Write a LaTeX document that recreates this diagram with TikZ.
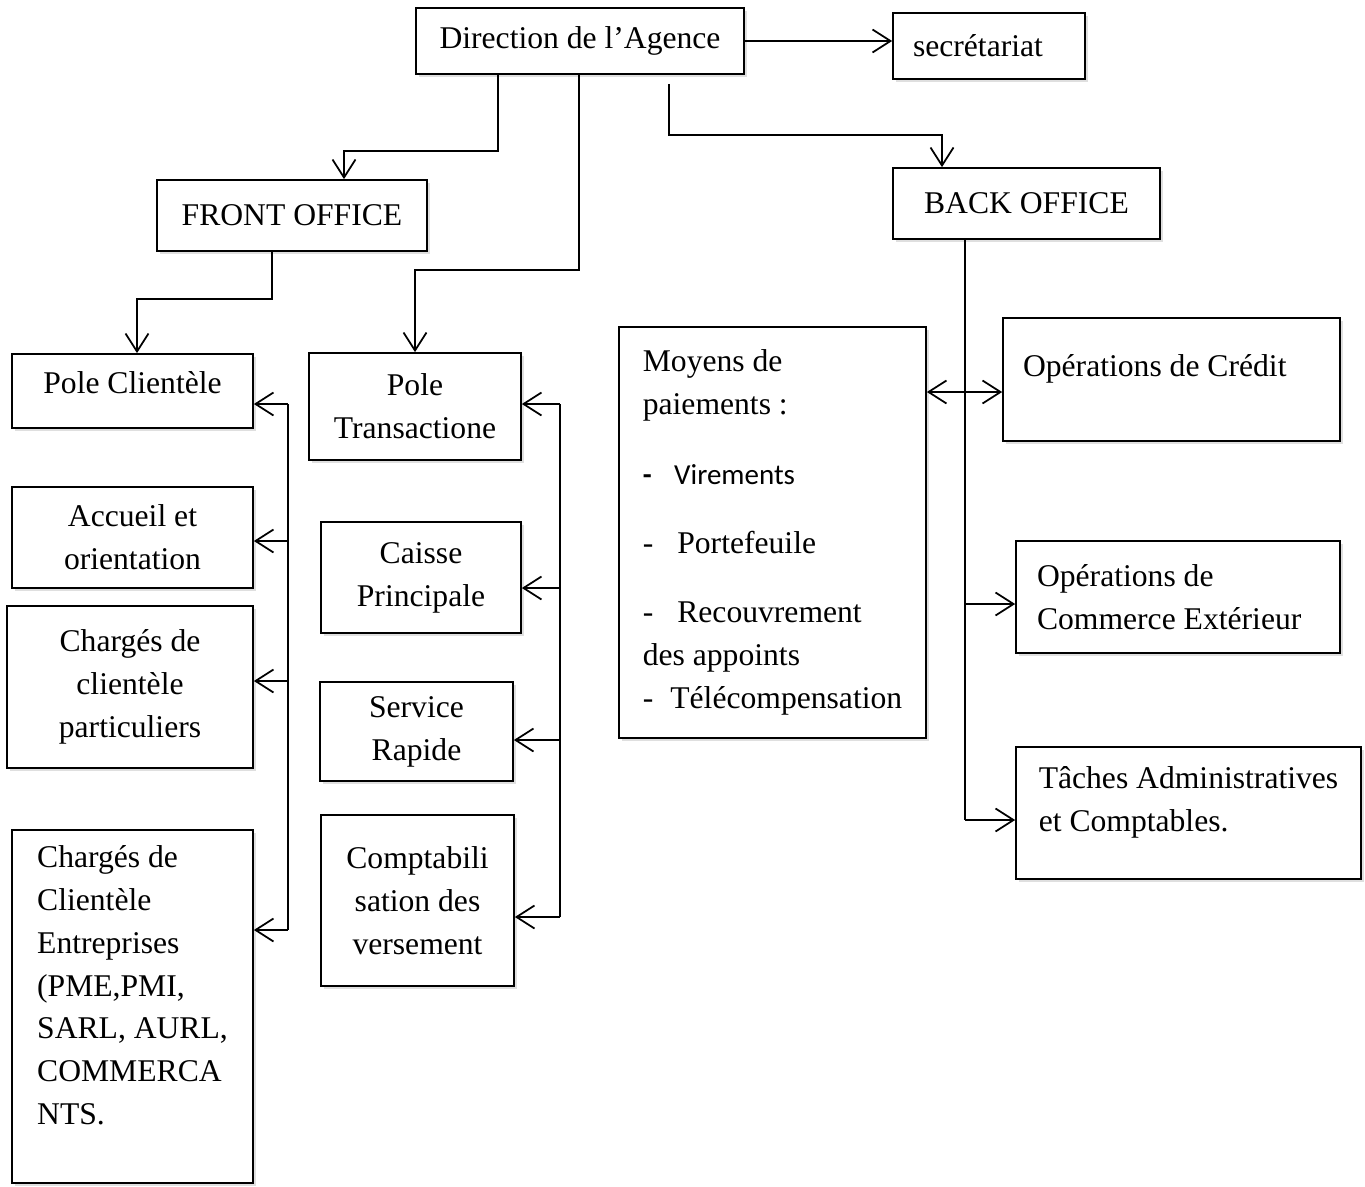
\documentclass[tikz,border=0pt]{standalone}
\usepackage{fontspec}
\setmainfont{Liberation Serif}
\newfontfamily\calibrifont{Carlito}
\usetikzlibrary{arrows.meta,shadows}

\begin{document}
\begin{tikzpicture}[x=0.02cm,y=-0.02cm,line width=1pt,>={Straight Barb[length=3.6mm,width=4.6mm]},
        box/.style={draw,line width=1pt,fill=white,drop shadow={shadow xshift=1.5pt,shadow yshift=-1.5pt,opacity=0.25},align=center,inner sep=0pt,font=\fontsize{18}{24.4}\selectfont}]
            \useasboundingbox (0,0) rectangle (1365,1186);
            \node[box,minimum width=6.56cm,minimum height=1.32cm] (dir) at (580,41) {Direction de l’Agence};
            \node[box,minimum width=3.84cm,minimum height=1.32cm,align=flush left,text width=3.04cm,inner xsep=0.4cm] (sec) at (989,46) {secrétariat};
            \node[box,minimum width=5.4cm,minimum height=1.42cm] (fo) at (292,215.5) {FRONT OFFICE};
            \node[box,minimum width=5.34cm,minimum height=1.42cm] (bo) at (1026.5,203.5) {BACK OFFICE};
            \node[box,minimum width=4.82cm,minimum height=1.48cm] (pc) at (132.5,391) {Pole Clientèle\\[-15pt]\mbox{}};
            \node[box,minimum width=4.24cm,minimum height=2.14cm] (pt) at (415,406.5) {Pole\\Transactione};
            \node[box,minimum width=4.82cm,minimum height=2.02cm] (ac) at (132.5,537.5) {Accueil et\\orientation};
            \node[box,minimum width=4.92cm,minimum height=3.24cm] (cpart) at (130,687) {Chargés de\\clientèle\\particuliers};
            \node[box,minimum width=4.82cm,minimum height=7.06cm,align=left] (cent) at (132.5,1006.5) {Chargés de\\Clientèle\\Entreprises\\(PME,PMI,\\SARL, AURL,\\COMMERCA\\NTS.\\ \mbox{}};
            \node[box,minimum width=4.0cm,minimum height=2.22cm] (cp) at (421,577.5) {Caisse\\Principale};
            \node[box,minimum width=3.86cm,minimum height=1.98cm] (sr) at (416.5,731.5) {Service\\Rapide};
            \node[box,minimum width=3.86cm,minimum height=3.42cm] (cv) at (417.5,900.5) {Comptabili\\sation des\\versement};
            \node[box,minimum width=6.14cm,minimum height=8.22cm,align=left] (mp) at (772.5,532.5) {Moyens de\\paiements :\\[15pt]{\calibrifont\fontsize{16.5}{24.4}\selectfont\textbf{-}\hspace{0.45cm}Virements}\\[15pt]-\hspace{0.48cm}Portefeuile\\[15pt]-\hspace{0.48cm}Recouvrement\\des appoints\\-\hspace{0.34cm}Télécompensation};
            \node[box,minimum width=6.74cm,minimum height=2.46cm,align=flush left,text width=5.94cm,inner xsep=0.4cm] (oc) at (1171.5,379.5) {Opérations de Crédit\\[-8pt]\mbox{}};
            \node[box,minimum width=6.48cm,minimum height=2.24cm,align=flush left,text width=5.64cm,inner xsep=0.42cm] (ce) at (1178,597) {Opérations de\\Commerce Extérieur};
            \node[box,minimum width=6.9cm,minimum height=2.64cm,align=left] (ta) at (1188.5,813) {Tâches Administratives\\et Comptables.\\[-8pt]\mbox{}};

            \coordinate (d1) at (498,151);
            \coordinate (d2) at (344,151);
            \coordinate (t1) at (579,270);
            \coordinate (t2) at (415,270);
            \coordinate (b1) at (669,135);
            \coordinate (b2) at (942,135);
            \coordinate (f1) at (272,299);
            \coordinate (f2) at (137,299);
            \coordinate (l1) at (288,404);
            \coordinate (l2) at (288,541);
            \coordinate (l3) at (288,681);
            \coordinate (l4) at (288,930);
            \coordinate (r1) at (560,404);
            \coordinate (r2) at (560,588);
            \coordinate (r3) at (560,740);
            \coordinate (r4) at (560,917);
            \coordinate (c1) at (965,392);
            \coordinate (v2) at (965,604);
            \coordinate (v3) at (965,820);

            \draw[->] (dir.east) -- (dir.east -| sec.west);
            \draw[->] (d1 |- dir.south) -- (d1) -- (d2) -- (d2 |- fo.north);
            \draw[->] (t1 |- dir.south) -- (t1) -- (t2) -- (t2 |- pt.north);
            \draw[->,shorten <=0.18cm] (b1 |- dir.south) -- (b1) -- (b2) -- (b2 |- bo.north);
            \draw[->] (f1 |- fo.south) -- (f1) -- (f2) -- (f2 |- pc.north);

            \draw (l1) -- (l4);
            \draw[->] (l1) -- (l1 -| pc.east);
            \draw[->] (l2) -- (l2 -| ac.east);
            \draw[->] (l3) -- (l3 -| cpart.east);
            \draw[->] (l4) -- (l4 -| cent.east);

            \draw (r1) -- (r4);
            \draw[->] (r1) -- (r1 -| pt.east);
            \draw[->] (r2) -- (r2 -| cp.east);
            \draw[->] (r3) -- (r3 -| sr.east);
            \draw[->] (r4) -- (r4 -| cv.east);

            \draw (v3 |- bo.south) -- (v3);
            \draw[<->] (c1 -| mp.east) -- (c1 -| oc.west);
            \draw[->] (v2) -- (v2 -| ce.west);
            \draw[->] (v3) -- (v3 -| ta.west);
        \end{tikzpicture}
\end{document}
